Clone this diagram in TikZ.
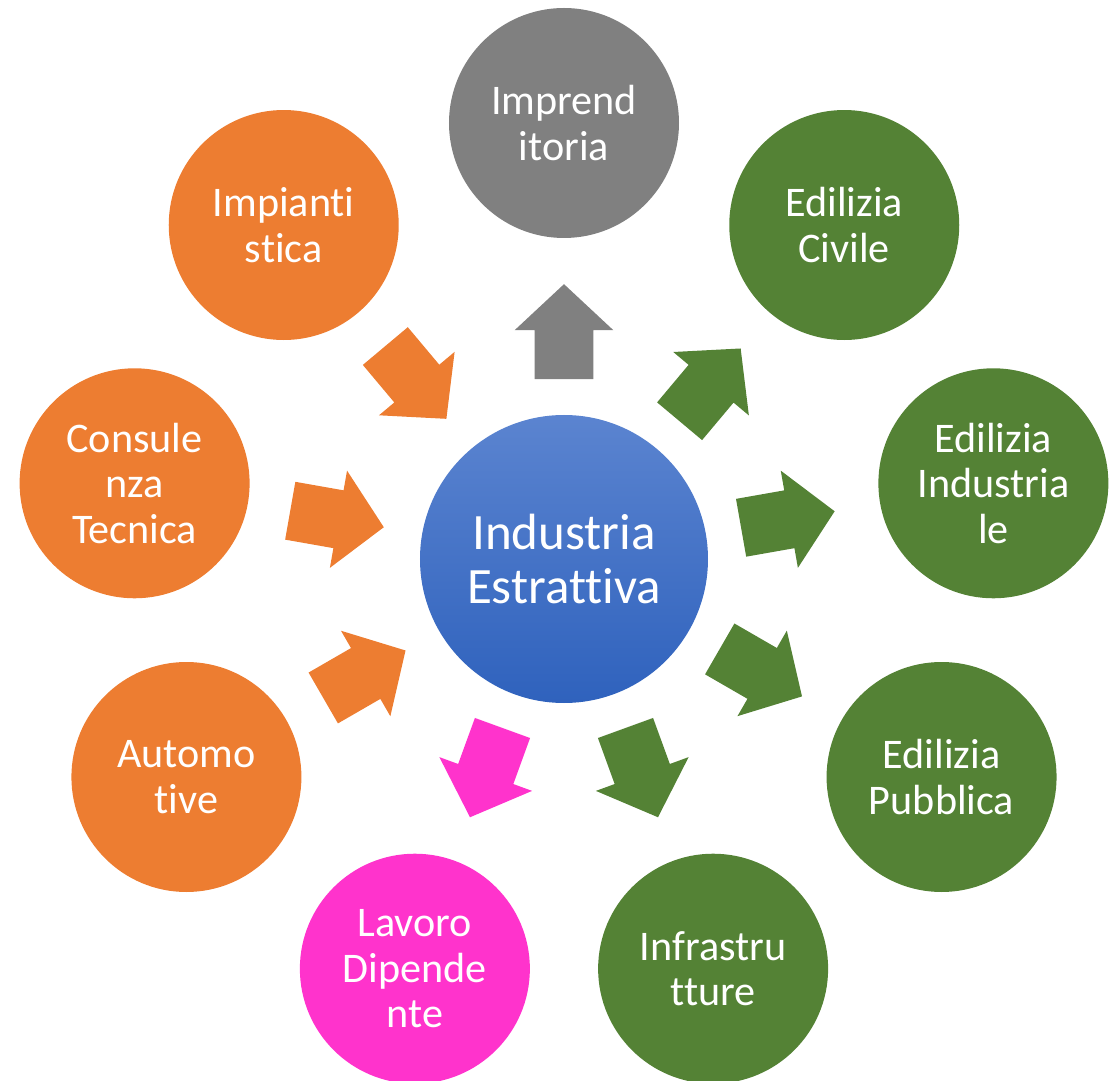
\documentclass[tikz,border=0pt]{standalone}
\usepackage{fontspec}
\setmainfont{Carlito}[Ligatures={NoCommon}]
\usetikzlibrary{shapes.arrows}
\definecolor{orangeacc}{HTML}{ED7D31}
\definecolor{greenacc}{HTML}{548235}
\definecolor{grayacc}{HTML}{808080}
\definecolor{pinkacc}{HTML}{FF33CC}
\definecolor{bluetop}{HTML}{5B84D0}
\definecolor{bluebot}{HTML}{2F62BD}
\begin{document}
\begin{tikzpicture}[main node/.style={circle,minimum size=4.6cm,inner sep=0pt,align=center,
    text=white,font=\fontsize{24}{26}\selectfont},
  hub node/.style={circle,minimum size=5.76cm,inner sep=0pt,align=center,text=white,
    top color=bluetop,bottom color=bluebot,font=\fontsize{29}{31}\selectfont},
  block arrow/.style={single arrow,draw=none,minimum height=1.9cm,minimum width=1.96cm,
    single arrow head extend=0.4cm,single arrow tip angle=94,inner xsep=0pt,inner ysep=0.58cm,
    sloped,allow upside down}]

 \useasboundingbox (-11.28,-10.44) rectangle (11.06,11.18);

 \node[hub node] (ind) at (0,0) {Industria\\Estrattiva};
 \node[main node,fill=grayacc] (impr) at (90:8.72) {Imprend\\itoria};
 \node[main node,fill=greenacc] (civ) at (50:8.72) {Edilizia\\Civile};
 \node[main node,fill=greenacc] (indl) at (10:8.72) {Edilizia\\Industria\\le};
 \node[main node,fill=greenacc] (pub) at (-30:8.72) {Edilizia\\Pubblica};
 \node[main node,fill=greenacc] (infr) at (-70:8.72) {Infrastru\\tture};
 \node[main node,fill=pinkacc] (lav) at (-110:8.72) {Lavoro\\Dipende\\nte};
 \node[main node,fill=orangeacc] (auto) at (-150:8.72) {Automo\\tive};
 \node[main node,fill=orangeacc] (cons) at (170:8.72) {Consule\\nza\\Tecnica};
 \node[main node,fill=orangeacc] (imp) at (130:8.72) {Impianti\\stica};

 \path (ind.center) -- node[block arrow,fill=grayacc,pos=.49] (a1) {} (impr.center);
 \path (ind.center) -- node[block arrow,fill=greenacc,pos=.49] (a2) {} (civ.center);
 \path (ind.center) -- node[block arrow,fill=greenacc,pos=.49] (a3) {} (indl.center);
 \path (ind.center) -- node[block arrow,fill=greenacc,pos=.49] (a4) {} (pub.center);
 \path (ind.center) -- node[block arrow,fill=greenacc,pos=.49] (a5) {} (infr.center);
 \path (ind.center) -- node[block arrow,fill=pinkacc,pos=.49] (a6) {} (lav.center);
 \path (auto.center) -- node[block arrow,fill=orangeacc,pos=.44] (a7) {} (ind.center);
 \path (cons.center) -- node[block arrow,fill=orangeacc,pos=.44] (a8) {} (ind.center);
 \path (imp.center) -- node[block arrow,fill=orangeacc,pos=.44] (a9) {} (ind.center);

\end{tikzpicture}
\end{document}
